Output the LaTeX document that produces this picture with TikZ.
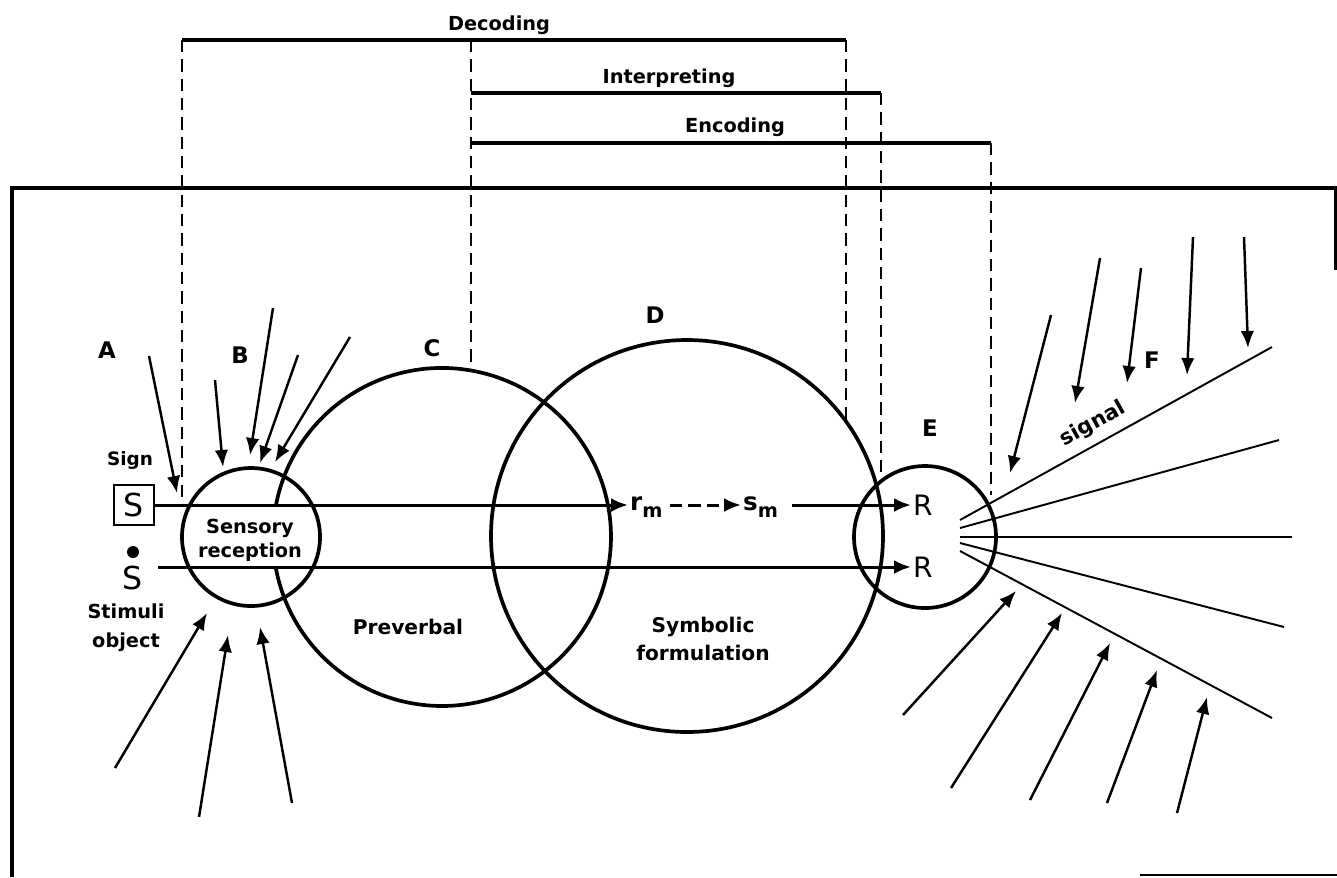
\documentclass[tikz,border=0pt]{standalone}
\usepackage{fontspec}
\setmainfont{DejaVu Sans}
\usetikzlibrary{arrows.meta,positioning}

\tikzset{
	ring/.style={line width=2.1pt},
	span/.style={line width=1.9pt},
	guide/.style={line width=1.4pt,dash pattern=on 7pt off 4pt},
	ray/.style={line width=1.4pt,-{Latex[length=3.4mm,width=2.7mm]}},
	flow/.style={line width=1.7pt,-{Latex[length=3.4mm,width=2.8mm]}},
	fan/.style={line width=1.1pt},
	tag/.style={font=\bfseries\fontsize{11}{13.6}\selectfont,align=center},
	letter/.style={font=\bfseries\fontsize{13}{14}\selectfont},
	big/.style={font=\fontsize{18}{18}\selectfont,inner sep=1pt},
}

\begin{document}
\begin{tikzpicture}[x=0.02cm,y=-0.02cm]
	\useasboundingbox (0,0) rectangle (1337,877);
	% frame
	\draw[span] (1336,270) -- (1336,188) -- (12,188) -- (12,877);
	\draw[line width=1.2pt] (1140,875) -- (1337,875);
	% spans above the frame
	\draw[span] (182,40) -- (846,40);
	\draw[span] (471,93) -- (881,93);
	\draw[span] (471,143) -- (991,143);
	\draw[guide] (182,40) -- (182,498);
	\draw[guide] (471,40) -- (471,368);
	\draw[guide] (846,40) -- (846,420);
	\draw[guide] (881,93) -- (881,472);
	\draw[guide] (991,143) -- (991,495);
	\node[tag] (decoding) at (499,25) {Decoding};
	\node[tag] (interpreting) at (669,78) {Interpreting};
	\node[tag] (encoding) at (735,127) {Encoding};
	% circles
	\draw[ring] (251,537) circle (69);
	\draw[ring] (276,505) arc[start angle=190.9,end angle=529.8,radius=169];
	\draw[ring] (687,536) circle (196);
	\draw[ring] (925,537) circle (71);
	% letters
	\node[letter] (lblA) at (107,350) {A};
	\node[letter] (lblB) at (240,355) {B};
	\node[letter] (lblC) at (432,348) {C};
	\node[letter] (lblD) at (655,315) {D};
	\node[letter] (lblE) at (930,428) {E};
	\node[letter] (lblF) at (1152,360) {F};
	% texts
	\node[tag,font=\bfseries\fontsize{10.5}{13}\selectfont] (sign) at (130,460) {Sign};
	\node[draw,line width=1.5pt,minimum size=0.8cm,big] (sbox) at (134,505) {S};
	\fill (133,552) circle (6);
	\node[big] (stim) at (133,578) {S};
	\node[tag,font=\bfseries\fontsize{11}{16.5}\selectfont] (stimtxt) at (126,628) {Stimuli\\object};
	\node[tag] (sensory) at (250,540) {Sensory\\reception};
	\node[tag,font=\bfseries\fontsize{11.5}{14}\selectfont] (preverbal) at (408,627) {Preverbal};
	\node[tag,font=\bfseries\fontsize{11.5}{16}\selectfont] (symbolic) at (703,639) {Symbolic\\formulation};
	\node[tag,font=\bfseries\fontsize{12}{14}\selectfont,rotate=29] (signal) at (1093,424) {signal};
	\node[anchor=west,inner sep=1pt,font=\bfseries\fontsize{14}{15}\selectfont] (rm) at (628,507) {r\raisebox{-0.5ex}{\fontsize{11}{12}\selectfont m}};
	\node[anchor=west,inner sep=1pt,font=\bfseries\fontsize{14}{15}\selectfont] (sm) at (741,507) {s\raisebox{-0.5ex}{\fontsize{11}{12}\selectfont m}};
	\node[anchor=west,big,font=\fontsize{16}{16}\selectfont] (rup) at (911,505) {R};
	\node[anchor=west,big,font=\fontsize{16}{16}\selectfont] (rlow) at (911,567) {R};
	% main flows
	\draw[flow] (sbox.east) -- (sbox.east -| rm.west);
	\draw[flow,dash pattern=on 7pt off 3.5pt,shorten <=3pt] (sbox.east -| rm.east) -- (sbox.east -| sm.west);
	\draw[flow,shorten <=7pt] (sbox.east -| sm.east) -- (sbox.east -| rup.west);
	\coordinate (lowstart) at (158,567);
	\draw[flow] (lowstart) -- (lowstart -| rlow.west);
	% incoming stimuli
	\foreach \xa/\ya/\xb/\yb in {149/356/177/493, 215/380/223/467, 273/308/250/455,
		298/355/260/463, 350/337/275/462, 115/768/207/613, 199/817/228/635,
		292/803/260/627, 1051/315/1010/473, 1100/258/1075/403, 1141/268/1127/383,
		1193/237/1187/375, 1244/237/1248/348, 903/715/1016/591, 951/788/1062/613,
		1030/800/1110/643, 1107/803/1157/670, 1177/813/1207/697}
		\draw[ray] (\xa,\ya) -- (\xb,\yb);
	% signal fan
	\foreach \ya/\xb/\yb in {520/1272/347, 528/1279/440, 537/1292/537, 543/1284/627, 551/1272/718}
		\draw[fan] (960,\ya) -- (\xb,\yb);
\end{tikzpicture}
\end{document}
